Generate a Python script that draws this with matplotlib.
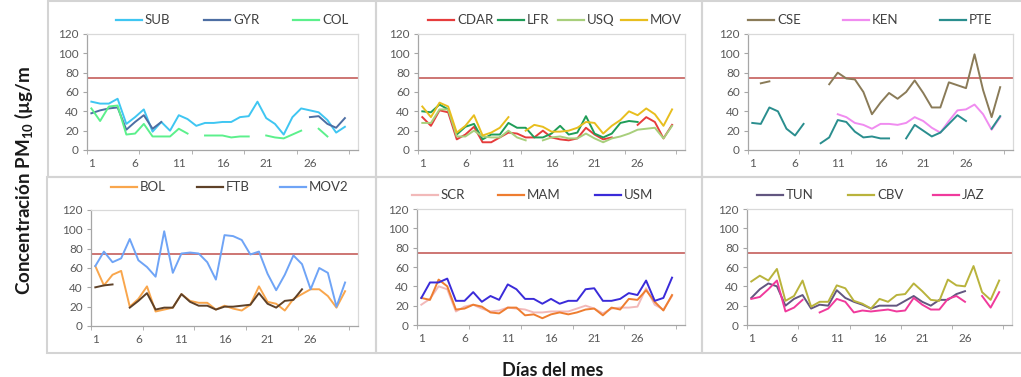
import numpy as np
import matplotlib
matplotlib.use("Agg")
import matplotlib.pyplot as plt
from matplotlib.lines import Line2D
from matplotlib.patches import Rectangle

plt.rcParams['font.family'] = ['Lato', 'DejaVu Sans']
plt.rcParams['mathtext.fontset'] = 'custom'
plt.rcParams['mathtext.rm'] = 'Lato'
plt.rcParams['mathtext.bf'] = 'Lato:bold'

N = None
days = list(range(1, 31))
LIMIT = 75
xtick_labels = ['1', '6', '11', '16', '21', '26']
ytick_values = [0, 20, 40, 60, 80, 100, 120]

# Panel 1
SUB = [50,48,48,53,27,34,42,19,29,20,36,32,25,28,28,29,29,34,35,50,33,27,16,34,43,41,39,31,18,24]
GYR = [38,41,43,44,21,29,36,22,29,N,N,N,N,N,N,N,N,N,N,N,N,N,N,N,N,34,35,27,23,33]
COL = [43,30,45,46,16,17,27,14,14,14,22,17,N,15,15,15,13,14,14,N,15,13,12,16,20,N,22,14,N,N]
# Panel 2
CDAR = [34,25,41,39,11,16,24,8,8,13,18,17,13,13,20,13,11,10,12,23,16,11,13,N,N,26,34,29,12,26]
LFR = [40,39,47,42,16,24,27,11,16,16,28,23,23,13,13,17,25,16,18,35,17,13,17,28,30,29,N,N,N,N]
USQ = [28,28,42,42,14,14,20,14,13,13,20,13,10,N,10,13,14,12,12,17,12,8,12,14,17,21,22,23,12,25]
MOV = [45,34,49,45,18,25,36,15,18,23,34,N,20,26,24,19,19,20,23,29,28,17,25,31,40,36,43,37,25,42]
# Panel 3
CSE = [N,69,71,N,N,N,N,N,N,68,80,74,73,60,37,49,59,53,60,72,59,44,44,70,67,64,99,62,34,65]
KEN = [N,N,N,N,N,N,N,N,N,N,37,34,28,26,22,27,27,26,28,34,30,23,18,30,41,42,47,37,21,34]
PTE = [28,27,44,40,22,15,27,N,7,13,31,29,19,13,14,12,12,N,12,26,20,14,18,27,36,30,N,N,22,35]
# Panel 4
BOL = [62,42,53,57,20,28,41,15,17,19,33,26,24,24,17,21,18,16,22,41,25,23,16,28,33,38,38,31,19,36]
FTB = [40,42,43,N,19,26,34,17,19,19,33,25,21,21,17,20,20,21,22,34,23,19,26,27,38,N,N,N,N,N]
MOV2 = [62,77,66,70,90,68,61,51,98,55,75,76,75,66,48,94,93,89,74,77,54,37,53,73,64,38,60,55,20,45]
# Panel 5
SCR = [21,27,40,37,14,19,21,17,14,15,18,17,16,13,13,14,14,14,17,20,17,12,17,18,18,19,38,21,16,30]
MAM = [28,26,47,40,16,17,21,19,13,12,18,18,10,11,7,11,13,11,13,16,17,10,18,16,27,26,36,24,15,31]
USM = [28,44,44,48,25,25,34,24,30,26,42,37,27,27,22,27,22,25,25,37,38,25,25,27,33,31,46,25,28,49]
# Panel 6
TUN = [28,37,43,40,20,27,31,17,21,20,36,28,24,21,17,20,20,20,25,30,24,20,26,26,32,35,N,N,N,N]
CBV = [45,51,46,58,25,30,46,19,24,24,41,38,25,22,17,27,24,31,32,43,35,26,25,47,41,40,61,34,26,46]
JAZ = [27,29,37,46,14,18,26,N,13,17,27,24,13,15,14,15,16,14,15,28,21,16,16,27,30,24,N,30,18,34]

W, H = 1021, 377
fig = plt.figure(figsize=(W/100, H/100), dpi=100)

def fx(px): return px / W
def fy(py): return 1 - py / H

# panel boxes (pixel layout)
boxes = [(48, 1, 376, 177), (376, 1, 702, 177), (702, 1, 1025, 177),
         (47, 177, 376, 353), (376, 177, 702, 353), (702, 177, 1025, 353)]
for (x0, y0, x1, y1) in boxes:
    fig.add_artist(Rectangle((fx(x0), fy(y1)), fx(x1) - fx(x0), fy(y0) - fy(y1),
                             transform=fig.transFigure, fill=False,
                             edgecolor='#d4d4d4', lw=1.5))

panels = [
    dict(ax=(87, 34, 358, 150), leg_y=20,
         series=[('SUB', SUB, '#3fc6f2'), ('GYR', GYR, '#4d6ea3'), ('COL', COL, '#5cf08c')],
         leg_x=[116, 204, 293]),
    dict(ax=(418, 34, 685, 150), leg_y=20,
         series=[('CDAR', CDAR, '#e63c3c'), ('LFR', LFR, '#1f9d58'),
                 ('USQ', USQ, '#a8cf7c'), ('MOV', MOV, '#e8be1e')],
         leg_x=[428, 498, 558, 621]),
    dict(ax=(748, 34, 1013, 150), leg_y=20,
         series=[('CSE', CSE, '#8a7b58'), ('KEN', KEN, '#f08cf0'), ('PTE', PTE, '#2a8e8e')],
         leg_x=[748, 843, 940]),
    dict(ax=(91, 210, 358, 326), leg_y=187,
         series=[('BOL', BOL, '#f9a64c'), ('FTB', FTB, '#5e4128'), ('MOV2', MOV2, '#6fa4f6')],
         leg_x=[111, 197, 280]),
    dict(ax=(417, 209, 685, 325), leg_y=195,
         series=[('SCR', SCR, '#f2b9b9'), ('MAM', MAM, '#ee7d30'), ('USM', USM, '#3a2bd9')],
         leg_x=[412, 498, 595]),
    dict(ax=(747, 209, 1012, 325), leg_y=195,
         series=[('TUN', TUN, '#625680'), ('CBV', CBV, '#b9b33c'), ('JAZ', JAZ, '#f03a9c')],
         leg_x=[757, 848, 933]),
]

tick_col = '#595959'
for p in panels:
    x0, y0, x1, y1 = p['ax']
    ax = fig.add_axes([fx(x0), fy(y1), fx(x1) - fx(x0), fy(y0) - fy(y1)])
    ax.axhline(LIMIT, color='#c0504d', lw=1.1, zorder=1)
    for name, vals, col in p['series']:
        arr = np.array([np.nan if v is None else v for v in vals], dtype=float)
        ax.plot(days, arr, color=col, lw=1.4, zorder=2)
    ax.set_xlim(0.5, 31.5)
    ax.set_ylim(0, 120)
    ax.set_yticks(ytick_values)
    ax.set_xticks([int(t) for t in xtick_labels])
    ax.set_xticklabels(xtick_labels)
    ax.set_xticks(np.arange(0.5, 31, 6), minor=True)
    ax.tick_params(axis='x', which='major', length=0, labelsize=8.5, colors=tick_col, pad=6)
    ax.tick_params(axis='x', which='minor', length=3, color='#a6a6a6', direction='out')
    ax.tick_params(axis='y', length=3, color='#a6a6a6', labelsize=8.5, labelcolor=tick_col, pad=3)
    for s in ['left', 'bottom']:
        ax.spines[s].set_color('#a6a6a6')
        ax.spines[s].set_linewidth(0.9)
    for s in ['top', 'right']:
        ax.spines[s].set_color('#d9d9d9')
        ax.spines[s].set_linewidth(0.9)
    # legend
    ly = fy(p['leg_y'])
    for (name, vals, col), lx in zip(p['series'], p['leg_x']):
        fig.add_artist(Line2D([fx(lx), fx(lx + 26)], [ly, ly], color=col, lw=1.6,
                              transform=fig.transFigure))
        fig.text(fx(lx + 29), ly, name, fontsize=9.5, color='#404040',
                 va='center', ha='left')

fig.text(fx(553), fy(370), 'Días del mes', fontsize=13, fontweight='bold',
         ha='center', va='center', color='#1a1a1a')
fig.text(fx(24), fy(180), r'Concentración PM$_{\mathbf{10}}$ (µg/m', fontsize=13.5,
         fontweight='bold', rotation=90, ha='center', va='center', color='#1a1a1a')

fig.savefig('out.png', dpi=100)
